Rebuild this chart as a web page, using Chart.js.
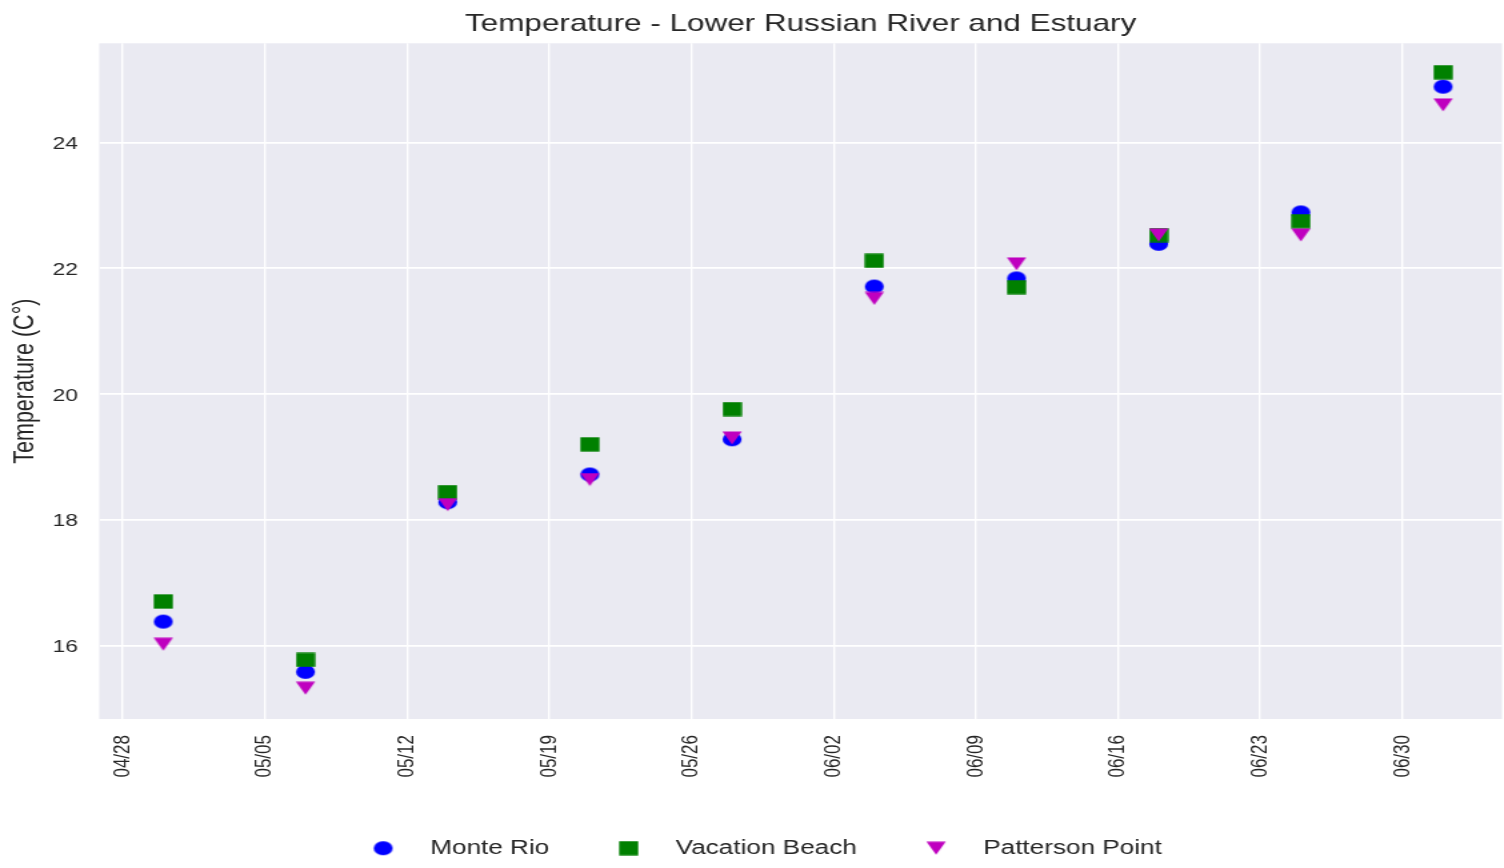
<!DOCTYPE html>
<html><head><meta charset="utf-8">
<script src="https://cdn.jsdelivr.net/npm/chart.js@4/dist/chart.umd.min.js"></script>
<style>
html,body{margin:0;padding:0;background:#fff;overflow:hidden;}
#c{display:block;transform:scaleX(1.333333);transform-origin:0 0;}
</style></head><body>
<canvas id="c" width="1128" height="868"></canvas>
<script>
// ---- data ----
const sampleDates = ['04/30','05/07','05/14','05/21','05/28','06/04','06/11','06/18','06/25','07/02'];
const monteRio       = [16.38, 15.58, 18.28, 18.72, 19.28, 21.71, 21.84, 22.39, 22.89, 24.89];
const vacationBeach  = [16.70, 15.77, 18.44, 19.20, 19.76, 22.12, 21.70, 22.53, 22.75, 25.12];
const pattersonPoint = [16.02, 15.32, 18.24, 18.64, 19.30, 21.52, 22.07, 22.53, 22.53, 24.60];
const seriesNames = ['Monte Rio','Vacation Beach','Patterson Point'];
const xTickLabels = ['04/28','05/05','05/12','05/19','05/26','06/02','06/09','06/16','06/23','06/30'];
const yTicks = [16, 18, 20, 22, 24];
const titleText = 'Temperature - Lower Russian River and Estuary';
const yAxisTitle = 'Temperature (C°)';

function dayNum(s){ const [m,d] = s.split('/').map(Number); return Date.UTC(2000, m-1, d) / 86400000; }
const origin = dayNum(xTickLabels[0]);
const toX = s => dayNum(s) - origin;
const pts = vals => vals.map((v,i) => ({x: toX(sampleDates[i]), y: v}));

// ---- marker images (pre-stretch sizes) ----
function mk(w, h, draw){ const c = document.createElement('canvas'); c.width = w; c.height = h; draw(c.getContext('2d')); return c; }
const circleImg = mk(16, 16, g => { g.fillStyle = '#0000ff'; g.beginPath(); g.arc(8, 8, 7.1, 0, Math.PI*2); g.fill(); });
const squareImg = mk(15, 15, g => { g.fillStyle = '#008000'; g.fillRect(0.35, 0.35, 14.3, 14.3); });
const triImg = mk(16, 14, g => { g.fillStyle = '#bf00bf'; g.beginPath(); g.moveTo(0.8, 0.5); g.lineTo(15.2, 0.5); g.lineTo(8, 13.5); g.closePath(); g.fill(); });

const TXT = '#262626';
const FONT = "'Liberation Sans', Arial, sans-serif";

const bgPlugin = {
  id: 'bg',
  beforeDraw(chart){
    const {ctx, chartArea: a} = chart;
    ctx.save();
    ctx.fillStyle = '#ffffff'; ctx.fillRect(0, 0, chart.width, chart.height);
    ctx.fillStyle = '#EAEAF2'; ctx.fillRect(a.left, a.top, a.right - a.left, a.bottom - a.top);
    ctx.restore();
  },
  afterDraw(chart){
    const {ctx, chartArea: a} = chart;
    ctx.save();
    ctx.fillStyle = TXT;
    ctx.font = "23.6px " + FONT;
    ctx.textAlign = 'center'; ctx.textBaseline = 'middle';
    ctx.fillText(titleText, (a.left + a.right) / 2, 24.5);
    ctx.restore();
  }
};

new Chart(document.getElementById('c'), {
  type: 'scatter',
  data: {
    datasets: [
      {label: seriesNames[0], data: pts(monteRio), pointStyle: circleImg, pointRadius: 7, order: 2, backgroundColor: '#0000ff', borderColor: '#0000ff'},
      {label: seriesNames[1], data: pts(vacationBeach), pointStyle: squareImg, pointRadius: 7, order: 1, backgroundColor: '#008000', borderColor: '#008000'},
      {label: seriesNames[2], data: pts(pattersonPoint), pointStyle: triImg, pointRadius: 7, order: 0, backgroundColor: '#bf00bf', borderColor: '#bf00bf'}
    ]
  },
  options: {
    responsive: false,
    animation: false,
    devicePixelRatio: 1,
    layout: {autoPadding: false, padding: {left: 6.8, right: 1.5, top: 43.3, bottom: 0}},
    plugins: {
      title: {display: false},
      tooltip: {enabled: false},
      legend: {
        position: 'bottom',
        labels: {
          usePointStyle: true, pointStyleWidth: 51, padding: 34,
          color: TXT, font: {family: FONT, size: 19.6},
          sort: (a, b) => a.datasetIndex - b.datasetIndex
        }
      }
    },
    scales: {
      x: {
        type: 'linear', min: -1.15, max: 67.9,
        afterBuildTicks: s => { s.ticks = xTickLabels.map(l => ({value: toX(l)})); },
        afterFit: s => {
          const lh = (s.chart.legend && s.chart.legend.height) || 63;
          s.height = s.chart.height - lh - 719;
          s.paddingLeft = 0; s.paddingRight = 0;
        },
        ticks: {
          autoSkip: false, minRotation: 90, maxRotation: 90, padding: 16,
          color: TXT, font: {family: FONT, size: 17},
          callback: v => { const i = xTickLabels.findIndex(l => toX(l) === v); return i >= 0 ? xTickLabels[i] : ''; }
        },
        grid: {color: '#ffffff', lineWidth: 1.4, drawTicks: false},
        border: {display: false}
      },
      y: {
        type: 'linear', min: 14.83, max: 25.58,
        afterBuildTicks: s => { s.ticks = yTicks.map(v => ({value: v})); },
        afterFit: s => { s.width = 67.7; s.paddingTop = 0; s.paddingBottom = 0; },
        ticks: {padding: 16, labelOffset: 2, color: TXT, font: {family: FONT, size: 17}},
        title: {display: true, text: yAxisTitle, color: TXT, font: {family: FONT, size: 21.5}, padding: {top: -0.8, bottom: 0}},
        grid: {color: '#ffffff', lineWidth: 1.8, drawTicks: false},
        border: {display: false}
      }
    }
  },
  plugins: [bgPlugin]
});
</script>
</body></html>
